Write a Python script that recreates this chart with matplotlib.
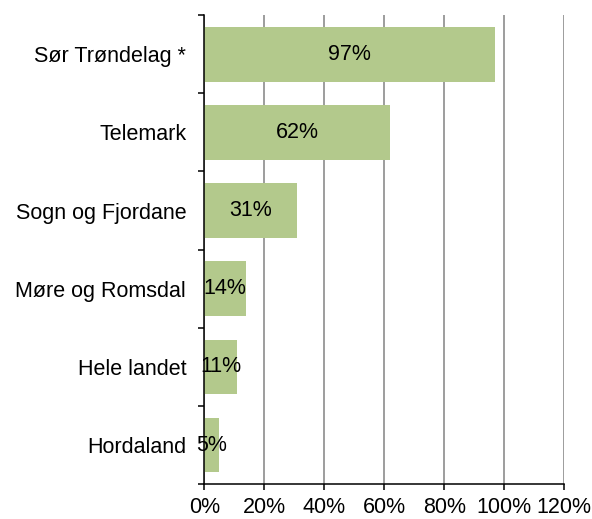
import matplotlib
matplotlib.use("Agg")
import matplotlib.pyplot as plt

# Data, top to bottom as in the chart
regions = ["Sør Trøndelag *", "Telemark", "Sogn og Fjordane",
           "Møre og Romsdal", "Hele landet", "Hordaland"]
shares = [97, 62, 31, 14, 11, 5]
x_ticks = [0, 20, 40, 60, 80, 100, 120]

plt.rcParams["font.family"] = ["Liberation Sans", "DejaVu Sans"]
fs = 15.5

fig = plt.figure(figsize=(5.92, 5.19), dpi=100)
ax = fig.add_axes([0.345, 0.067, 0.608, 0.904])

ypos = list(range(len(regions)))[::-1]
ax.barh(ypos, shares, height=0.7, color="#b3c98c", zorder=2)

for y, v in zip(ypos, shares):
    ax.text(v / 2, y, f"{v}%", ha="center", va="center", fontsize=fs, zorder=3)

ax.set_xlim(0, 120)
ax.set_ylim(-0.5, len(regions) - 0.5)
ax.set_xticks(x_ticks)
ax.set_xticklabels([f"{t}%" for t in x_ticks], fontsize=fs)
ax.set_yticks(ypos)
ax.set_yticklabels(regions, fontsize=fs)

# category boundary ticks like the original
ax.set_yticks([i - 0.5 for i in range(len(regions) + 1)], minor=True)
ax.tick_params(axis="y", which="major", length=0, pad=13)
ax.tick_params(axis="y", which="minor", length=4.5, width=1.1)
ax.tick_params(axis="x", length=4.5, width=1.1, pad=5)

ax.grid(axis="x", color="#8c8c8c", linewidth=1.2, zorder=1)
for s in ["top", "right"]:
    ax.spines[s].set_visible(False)
for s in ["left", "bottom"]:
    ax.spines[s].set_linewidth(1.1)

fig.savefig("out.png", dpi=100)
